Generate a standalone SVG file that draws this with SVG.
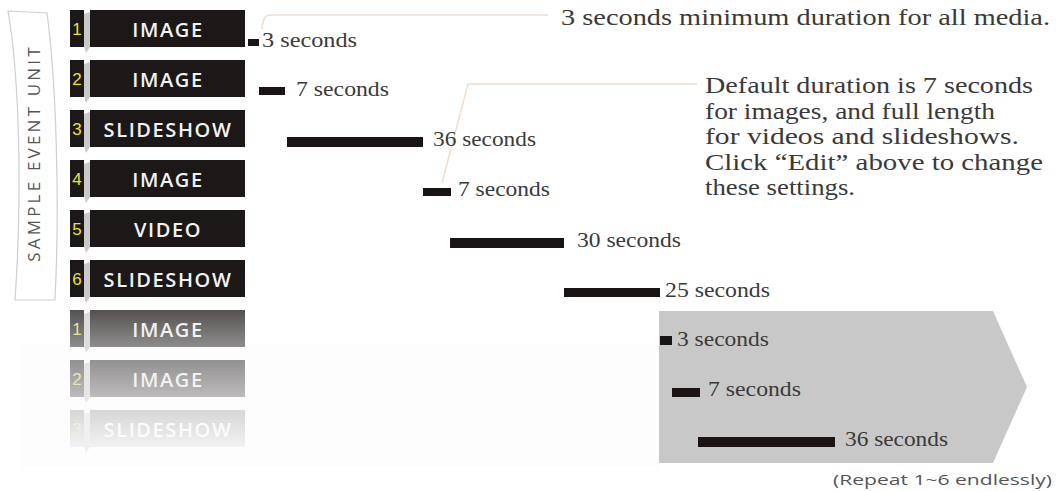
<svg xmlns="http://www.w3.org/2000/svg" width="1061" height="491" viewBox="0 0 1061 491">
<style>
.box{fill:#1c1818}
.tab{fill:#1c1818}
.fold{fill:#c9c9c9}
.lbl{font-family:"Open Sans","Liberation Sans",sans-serif;font-weight:600;font-size:20px;letter-spacing:1.6px;fill:#f2f2f2;text-anchor:middle}
.num{font-family:"Liberation Sans",sans-serif;font-size:17px;fill:#e6e23a;text-anchor:middle}
.bar{fill:#1a1414}
.sec{font-family:"Liberation Serif",serif;font-size:21px;fill:#3a3a3a}
.note{font-family:"Liberation Serif",serif;font-size:23px;fill:#3a3a3a}
.lead{fill:none;stroke:#f3dccb;stroke-width:1.5}
</style>
<defs>
<linearGradient id="g7" x1="0" y1="0" x2="0" y2="1"><stop offset="0" stop-color="#555151"/><stop offset="1" stop-color="#8e8c8c"/></linearGradient>
<linearGradient id="g8" x1="0" y1="0" x2="0" y2="1"><stop offset="0" stop-color="#929090"/><stop offset="1" stop-color="#bdbbbb"/></linearGradient>
<linearGradient id="g9" x1="0" y1="0" x2="0" y2="1"><stop offset="0" stop-color="#d6d6d6"/><stop offset="1" stop-color="#f2f2f2"/></linearGradient>
</defs>
<rect width="1061" height="491" fill="#ffffff"/>
<rect x="20" y="345" width="640" height="125" fill="#fdfdfd"/>

<g id="banner">
<path d="M8,11 L47,13 C56,80 60,200 55,300 L15,300 C22,200 20,80 8,11 Z" fill="#ffffff" stroke="#cfcfcf" stroke-width="1.2"/>
<text transform="translate(40,153) rotate(-90)" text-anchor="middle" font-family="'Open Sans','Liberation Sans',sans-serif" font-size="17" letter-spacing="3.2" fill="#555">SAMPLE EVENT UNIT</text>
</g>

<g id="item1"><polygon class="fold" points="84,14 90,12 90,47 86,53 84,46"/><rect class="tab" x="70" y="10" width="14" height="37"/><text class="num" x="77" y="35">1</text><rect class="box" x="90" y="10" width="155" height="37"/><text class="lbl" x="168" y="37">IMAGE</text></g>
<g id="item2"><polygon class="fold" points="84,64 90,62 90,97 86,103 84,96"/><rect class="tab" x="70" y="60" width="14" height="37"/><text class="num" x="77" y="85">2</text><rect class="box" x="90" y="60" width="155" height="37"/><text class="lbl" x="168" y="87">IMAGE</text></g>
<g id="item3"><polygon class="fold" points="84,114 90,112 90,147 86,153 84,146"/><rect class="tab" x="70" y="110" width="14" height="37"/><text class="num" x="77" y="135">3</text><rect class="box" x="90" y="110" width="155" height="37"/><text class="lbl" x="168" y="137">SLIDESHOW</text></g>
<g id="item4"><polygon class="fold" points="84,164 90,162 90,197 86,203 84,196"/><rect class="tab" x="70" y="160" width="14" height="37"/><text class="num" x="77" y="185">4</text><rect class="box" x="90" y="160" width="155" height="37"/><text class="lbl" x="168" y="187">IMAGE</text></g>
<g id="item5"><polygon class="fold" points="84,214 90,212 90,247 86,253 84,246"/><rect class="tab" x="70" y="210" width="14" height="37"/><text class="num" x="77" y="235">5</text><rect class="box" x="90" y="210" width="155" height="37"/><text class="lbl" x="168" y="237">VIDEO</text></g>
<g id="item6"><polygon class="fold" points="84,264 90,262 90,297 86,303 84,296"/><rect class="tab" x="70" y="260" width="14" height="37"/><text class="num" x="77" y="285">6</text><rect class="box" x="90" y="260" width="155" height="37"/><text class="lbl" x="168" y="287">SLIDESHOW</text></g>
<g id="item7"><polygon class="fold" points="84,314 90,312 90,347 86,353 84,346" style="fill:#dcdcdc"/><rect x="70" y="310" width="14" height="37" fill="url(#g7)"/><text class="num" x="77" y="335" style="fill:#e4e49a">1</text><rect x="90" y="310" width="155" height="37" fill="url(#g7)"/><text class="lbl" x="168" y="337">IMAGE</text></g>
<g id="item8"><polygon class="fold" points="84,364 90,362 90,397 86,403 84,396" style="fill:#e6e6e6"/><rect x="70" y="360" width="14" height="37" fill="url(#g8)"/><text class="num" x="77" y="385" style="fill:#e8e8b0">2</text><rect x="90" y="360" width="155" height="37" fill="url(#g8)"/><text class="lbl" x="168" y="387">IMAGE</text></g>
<g id="item9"><polygon class="fold" points="84,414 90,412 90,447 86,453 84,446" style="fill:#f0f0f0"/><rect x="70" y="410" width="14" height="37" fill="url(#g9)"/><text class="num" x="77" y="435" style="fill:#f0f0dc">3</text><rect x="90" y="410" width="155" height="37" fill="url(#g9)"/><text class="lbl" x="168" y="437" style="fill:#fbfbfb">SLIDESHOW</text></g>

<g id="connectors">
<path class="lead" d="M262,29 Q263,15 270,15 L548,15"/>
<path class="lead" d="M442,183 L468,84 L697,84"/>
</g>

<g id="bars">
<rect class="bar" x="248" y="39" width="11" height="7"/>
<text class="sec" x="262" y="47" textLength="95" lengthAdjust="spacingAndGlyphs">3 seconds</text>
<rect class="bar" x="259" y="87" width="26" height="8"/>
<text class="sec" x="296" y="96" textLength="93" lengthAdjust="spacingAndGlyphs">7 seconds</text>
<rect class="bar" x="287" y="137" width="136" height="10"/>
<text class="sec" x="433" y="146" textLength="103" lengthAdjust="spacingAndGlyphs">36 seconds</text>
<rect class="bar" x="423" y="188" width="28" height="8"/>
<text class="sec" x="458" y="196" textLength="92" lengthAdjust="spacingAndGlyphs">7 seconds</text>
<rect class="bar" x="450" y="238" width="114" height="10"/>
<text class="sec" x="577" y="247" textLength="104" lengthAdjust="spacingAndGlyphs">30 seconds</text>
<rect class="bar" x="564" y="288" width="96" height="9"/>
<text class="sec" x="665" y="297" textLength="105" lengthAdjust="spacingAndGlyphs">25 seconds</text>
</g>

<g id="repeat">
<polygon points="659,311 993,311 1027,387 993,463 659,463" fill="#c8c8c8"/>
<rect class="bar" x="660" y="336" width="12" height="9"/>
<text class="sec" x="677" y="346" textLength="92" lengthAdjust="spacingAndGlyphs">3 seconds</text>
<rect class="bar" x="672" y="388" width="28" height="9"/>
<text class="sec" x="708" y="396" textLength="93" lengthAdjust="spacingAndGlyphs">7 seconds</text>
<rect class="bar" x="698" y="437" width="137" height="10"/>
<text class="sec" x="845" y="446" textLength="103" lengthAdjust="spacingAndGlyphs">36 seconds</text>
<text x="833" y="485" font-family="'Open Sans','Liberation Sans',sans-serif" font-size="15" fill="#555" textLength="219" lengthAdjust="spacingAndGlyphs">(Repeat 1~6 endlessly)</text>
</g>

<g id="notes">
<text class="note" x="561" y="25" textLength="489" lengthAdjust="spacingAndGlyphs">3 seconds minimum duration for all media.</text>
<text class="note" x="705" y="93" textLength="328" lengthAdjust="spacingAndGlyphs">Default duration is 7 seconds</text>
<text class="note" x="705" y="118.5" textLength="290" lengthAdjust="spacingAndGlyphs">for images, and full length</text>
<text class="note" x="705" y="144" textLength="314" lengthAdjust="spacingAndGlyphs">for videos and slideshows.</text>
<text class="note" x="705" y="169.5" textLength="338" lengthAdjust="spacingAndGlyphs">Click “Edit” above to change</text>
<text class="note" x="705" y="195" textLength="150" lengthAdjust="spacingAndGlyphs">these settings.</text>
</g>
</svg>
